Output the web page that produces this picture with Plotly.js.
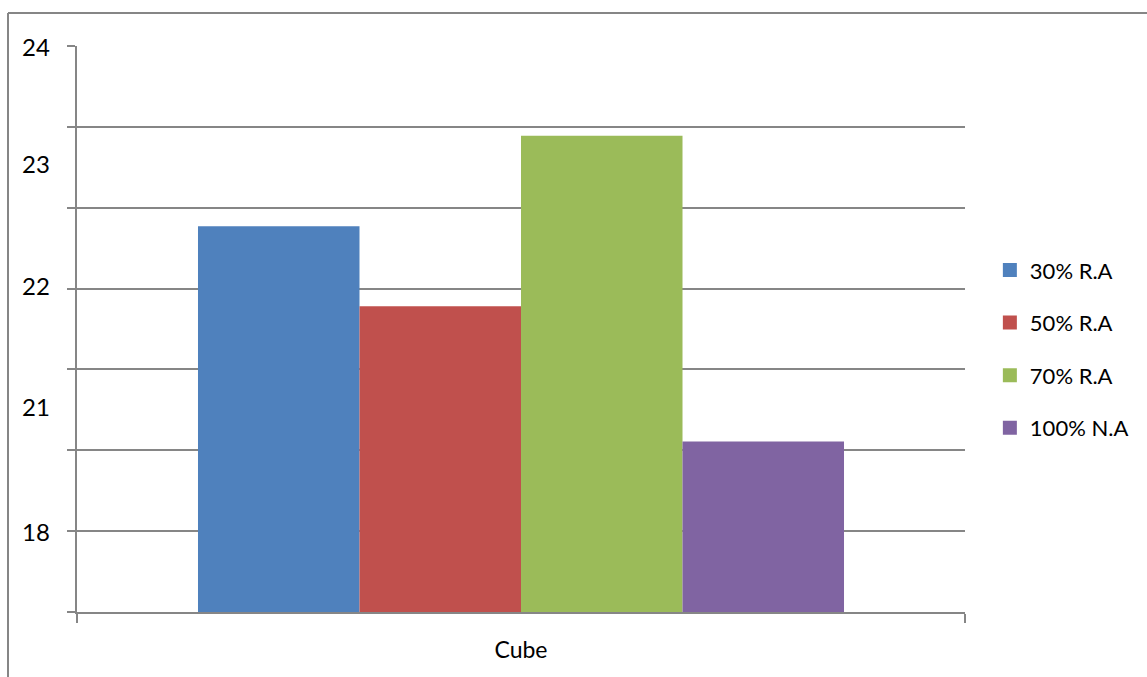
<!DOCTYPE html>
<html>
<head>
<meta charset="utf-8">
<script src="https://cdn.plot.ly/plotly-3.0.1.min.js"></script>
<style>
  html, body { margin: 0; padding: 0; background: #ffffff; }
  #chart { width: 1147px; height: 677px; }
</style>
</head>
<body>
<div id="chart"></div>
<script>
// Category and series
const categories = ["Cube"];
const seriesNames = ["30% R.A", "50% R.A", "70% R.A", "100% N.A"];
const values30RA = [21.77];
const values50RA = [20.78];
const values70RA = [22.89];
const values100NA = [19.11];
const seriesColors = ["#4F81BD", "#C0504D", "#9BBB59", "#8064A2"];

// Value axis: gridlines at every unit, printed labels at their own spots
const gridValues = [17, 18, 19, 20, 21, 22, 23, 24];
const yTickLabels = ["24", "23", "22", "21", "18"];
const yTickPositions = [24, 22.55, 21.04, 19.54, 18];

const seriesValues = [values30RA, values50RA, values70RA, values100NA];
const FONT = "Lato, 'Open Sans', sans-serif";
const GRAY = "#868686";

// Bars (legend handled by square-marker entries below)
const barTraces = seriesNames.map((name, i) => ({
  type: "bar",
  name: name,
  x: categories,
  y: seriesValues[i],
  marker: { color: seriesColors[i], line: { width: 0 } },
  legendgroup: "g" + i,
  showlegend: false,
  hoverinfo: "name+y"
}));

// Legend keys: solid squares
const legendTraces = seriesNames.map((name, i) => ({
  type: "scatter",
  mode: "markers",
  name: name,
  x: categories,
  y: [null],
  marker: { symbol: "square", size: 14, color: seriesColors[i], line: { width: 0 } },
  legendgroup: "g" + i,
  showlegend: true,
  hoverinfo: "skip"
}));

const annotations = yTickLabels.map((t, i) => ({
  text: t,
  xref: "paper",
  yref: "y",
  x: -0.0282,
  y: yTickPositions[i],
  xanchor: "right",
  yanchor: "middle",
  showarrow: false,
  font: { family: FONT, size: 24, color: "#000000" }
}));

// Outer chart frame (left and top edges)
const shapes = [
  { type: "line", xref: "paper", yref: "paper", x0: -0.0777, x1: -0.0777, y0: 1.0583, y1: -0.2,
    line: { color: GRAY, width: 2 } },
  { type: "line", xref: "paper", yref: "paper", x0: -0.0777, x1: 1.3, y0: 1.0583, y1: 1.0583,
    line: { color: GRAY, width: 2 } }
];

const layout = {
  width: 1147,
  height: 677,
  margin: { l: 77, r: 182, t: 46, b: 65 },
  paper_bgcolor: "#ffffff",
  plot_bgcolor: "#ffffff",
  barmode: "group",
  bargap: 0.2725,
  bargroupgap: 0,
  font: { family: FONT, size: 22, color: "#000000" },
  xaxis: {
    type: "category",
    tickson: "boundaries",
    ticks: "outside",
    ticklen: 9,
    tickwidth: 2,
    tickcolor: GRAY,
    showline: true,
    linecolor: GRAY,
    linewidth: 2,
    showgrid: false,
    zeroline: false,
    ticklabelstandoff: 16,
    tickfont: { family: FONT, size: 23, color: "#000000" }
  },
  yaxis: {
    range: [17, 24],
    tickmode: "array",
    tickvals: gridValues,
    showticklabels: false,
    ticks: "outside",
    ticklen: 8,
    tickwidth: 2,
    tickcolor: GRAY,
    showline: true,
    linecolor: GRAY,
    linewidth: 2,
    showgrid: true,
    gridcolor: GRAY,
    gridwidth: 2,
    zeroline: false,
    fixedrange: true
  },
  showlegend: true,
  legend: {
    x: 1.028,
    xanchor: "left",
    y: 0.641,
    yanchor: "top",
    tracegroupgap: 21,
    font: { family: FONT, size: 22, color: "#000000" },
    bgcolor: "rgba(0,0,0,0)",
    borderwidth: 0
  },
  annotations: annotations,
  shapes: shapes
};

Plotly.newPlot("chart", barTraces.concat(legendTraces), layout, { displayModeBar: false, staticPlot: true });
</script>
</body>
</html>
